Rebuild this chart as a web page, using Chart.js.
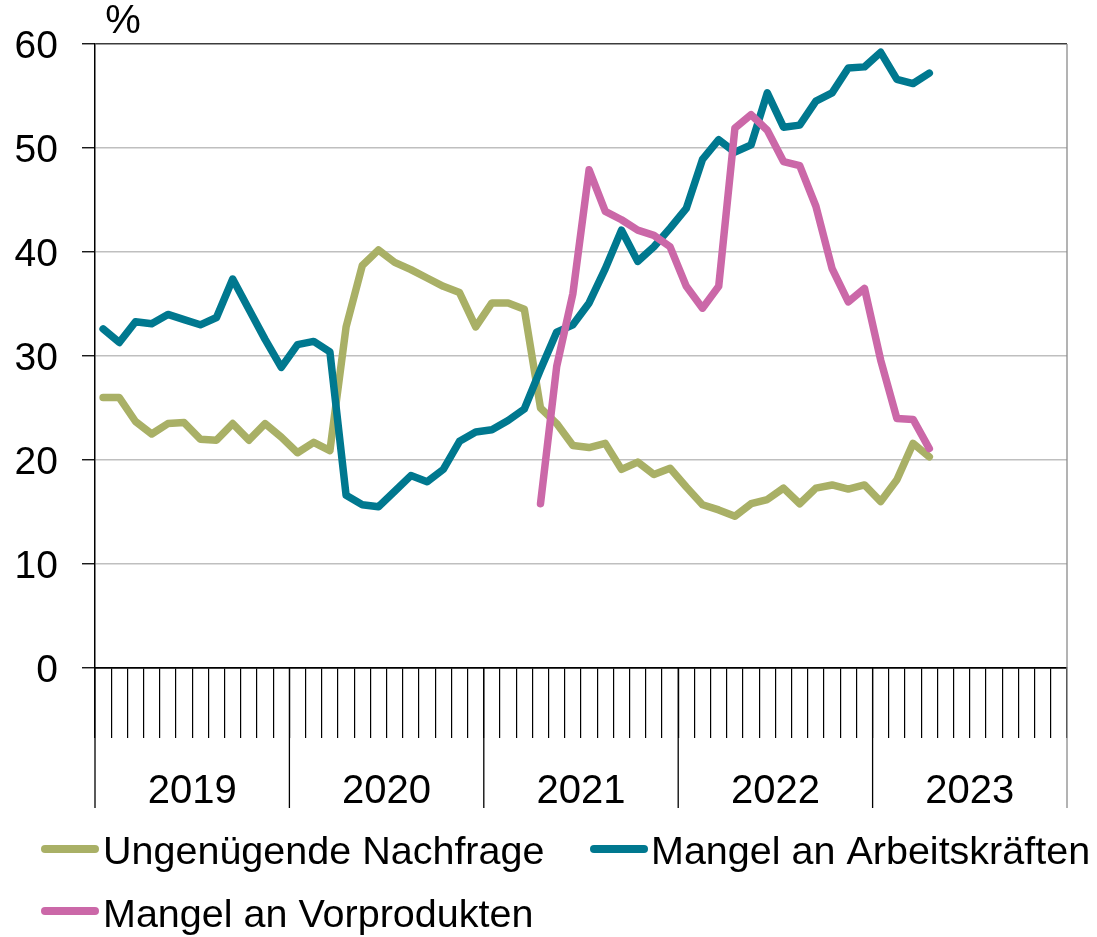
<!DOCTYPE html>
<html>
<head>
<meta charset="utf-8">
<script src="https://cdn.jsdelivr.net/npm/chart.js@4.4.1/dist/chart.umd.min.js"></script>
<style>
  html, body { margin: 0; padding: 0; background: #ffffff; }
  #wrap { width: 1097px; height: 937px; position: relative; }
</style>
</head>
<body>
<div id="wrap"><canvas id="c"></canvas></div>
<script>
// ---- Data ----
const years = ['2019', '2020', '2021', '2022', '2023'];
const months = ['Jan', 'Feb', 'Mär', 'Apr', 'Mai', 'Jun', 'Jul', 'Aug', 'Sep', 'Okt', 'Nov', 'Dez'];
const yTicks = [0, 10, 20, 30, 40, 50, 60];
const seriesNames = ['Ungenügende Nachfrage', 'Mangel an Arbeitskräften', 'Mangel an Vorprodukten'];

const nachfrage = [
  26.0, 26.0, 23.7, 22.5, 23.5, 23.6, 22.0, 21.9, 23.5, 21.9, 23.5, 22.2,
  20.7, 21.7, 20.9, 32.8, 38.7, 40.2, 39.0, 38.3, 37.5, 36.7, 36.1, 32.8,
  35.1, 35.1, 34.5, 25.0, 23.5, 21.4, 21.2, 21.6, 19.1, 19.8, 18.6, 19.2,
  17.4, 15.7, 15.2, 14.6, 15.8, 16.2, 17.3, 15.8, 17.3, 17.6, 17.2, 17.6,
  16.0, 18.1, 21.6, 20.3
];
const arbeitskraefte = [
  32.6, 31.3, 33.3, 33.1, 34.0, 33.5, 33.0, 33.7, 37.4, 34.5, 31.6, 28.9,
  31.1, 31.4, 30.4, 16.6, 15.7, 15.5, 17.0, 18.5, 17.9, 19.1, 21.8, 22.7,
  22.9, 23.8, 24.9, 28.7, 32.3, 33.0, 35.1, 38.4, 42.1, 39.1, 40.5, 42.3,
  44.2, 48.9, 50.8, 49.6, 50.3, 55.3, 52.0, 52.2, 54.5, 55.3, 57.7, 57.8,
  59.2, 56.6, 56.2, 57.2
];
const vorprodukte = [
  null, null, null, null, null, null, null, null, null, null, null, null,
  null, null, null, null, null, null, null, null, null, null, null, null,
  null, null, null, 15.8, 29.0, 36.0, 47.9, 43.9, 43.1, 42.1, 41.6, 40.5,
  36.7, 34.6, 36.7, 51.9, 53.2, 51.7, 48.7, 48.3, 44.4, 38.4, 35.2, 36.5,
  29.6, 24.0, 23.9, 21.1
];

const labels = years.flatMap(y => months.map(m => m + ' ' + y));

const COLORS = ['#a9b066', '#00788f', '#cb68a8'];
const FONT = '"Liberation Sans", Arial, Helvetica, sans-serif';

const decorations = {
  id: 'decorations',
  afterDraw(chart) {
    const { ctx, chartArea: a, scales: { x } } = chart;
    ctx.save();
    // year separators
    const bounds = [];
    for (let k = 0; k <= years.length; k++) {
      let px;
      if (k === 0) px = a.left;
      else if (k === years.length) px = a.right;
      else px = (x.getPixelForValue(k * 12 - 1) + x.getPixelForValue(k * 12)) / 2;
      bounds.push(px);
    }
    ctx.lineWidth = 1.3;
    bounds.forEach((px, k) => {
      ctx.beginPath();
      if (k === years.length) {
        ctx.strokeStyle = '#8a8a8a';
        ctx.moveTo(px, a.top);
      } else {
        ctx.strokeStyle = '#000000';
        ctx.moveTo(px, a.bottom);
      }
      ctx.lineTo(px, 808);
      ctx.stroke();
    });
    // year labels
    ctx.fillStyle = '#000000';
    ctx.font = '40px ' + FONT;
    ctx.textAlign = 'center';
    ctx.textBaseline = 'alphabetic';
    years.forEach((y, k) => {
      ctx.fillText(y, (bounds[k] + bounds[k + 1]) / 2, 803);
    });
    // unit
    ctx.fillText('%', 123, 33);
    // legend
    const items = [
      { i: 0, lx: 41, ly: 849, tx: 103, ty: 864 },
      { i: 1, lx: 590, ly: 849, tx: 651, ty: 864 },
      { i: 2, lx: 41, ly: 911, tx: 103, ty: 927 }
    ];
    ctx.textAlign = 'left';
    ctx.font = '39.5px ' + FONT;
    items.forEach(it => {
      ctx.strokeStyle = COLORS[it.i];
      ctx.lineWidth = 8;
      ctx.lineCap = 'round';
      ctx.beginPath();
      ctx.moveTo(it.lx + 4, it.ly);
      ctx.lineTo(it.lx + 54, it.ly);
      ctx.stroke();
      ctx.fillStyle = '#000000';
      ctx.fillText(seriesNames[it.i], it.tx, it.ty);
    });
    ctx.restore();
  }
};

const mk = (i, data, order) => ({
  label: seriesNames[i],
  data,
  borderColor: COLORS[i],
  backgroundColor: COLORS[i],
  borderWidth: 7.5,
  pointRadius: 0,
  pointHoverRadius: 0,
  tension: 0,
  fill: false,
  spanGaps: false,
  borderJoinStyle: 'round',
  borderCapStyle: 'round',
  order
});

new Chart(document.getElementById('c'), {
  type: 'line',
  data: {
    labels,
    datasets: [
      mk(0, nachfrage, 2),
      mk(1, arbeitskraefte, 1),
      mk(2, vorprodukte, 0)
    ]
  },
  options: {
    responsive: true,
    maintainAspectRatio: false,
    animation: false,
    layout: { autoPadding: false, padding: { left: 0, right: 30, top: 44, bottom: 0 } },
    plugins: {
      legend: { display: false },
      tooltip: { enabled: false },
      title: { display: false }
    },
    scales: {
      x: {
        type: 'category',
        offset: true,
        afterFit(scale) { scale.height = 269; },
        ticks: { display: false, autoSkip: false },
        grid: {
          display: true,
          offset: true,
          drawOnChartArea: false,
          drawTicks: true,
          tickLength: 70,
          tickColor: '#000000',
          tickWidth: 1.2,
          color: '#000000',
          lineWidth: 1.2
        },
        border: { display: true, color: '#000000', width: 1.5 }
      },
      y: {
        min: 0,
        max: 60,
        afterFit(scale) { scale.width = 95; },
        afterBuildTicks(scale) { scale.ticks = yTicks.map(v => ({ value: v })); },
        ticks: {
          stepSize: 10,
          color: '#000000',
          font: { family: FONT, size: 39, lineHeight: 1 },
          padding: 24,
          labelOffset: 3
        },
        grid: {
          drawTicks: true,
          tickLength: 13,
          tickColor: '#000000',
          tickWidth: 1.3,
          lineWidth: 1.5,
          color: (c) => {
            const v = c.tick ? c.tick.value : null;
            if (v === 60) return '#3c3c3c';
            if (v === 0) return '#000000';
            return '#bfbfbf';
          }
        },
        border: { display: true, color: '#000000', width: 1.5 }
      }
    }
  },
  plugins: [decorations]
});
</script>
</body>
</html>
